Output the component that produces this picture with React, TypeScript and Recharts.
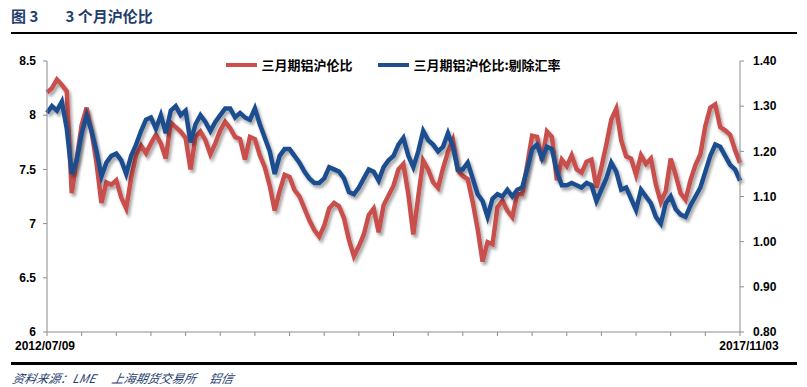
import React from 'react';
import { LineChart, Line, XAxis, YAxis, Legend } from 'recharts';

// 三月期铝沪伦比 (left axis), sampled evenly from 2012/07/09 to 2017/11/03
const ratio = [
  8.21, 8.25, 8.33, 8.28, 8.22, 7.28, 7.6, 7.91, 8.07, 7.85,
  7.56, 7.19, 7.38, 7.36, 7.4, 7.24, 7.14, 7.42, 7.63, 7.72,
  7.65, 7.74, 7.82, 7.74, 7.6, 7.93, 7.89, 7.85, 7.79, 7.5,
  7.8, 7.85, 7.77, 7.64, 7.74, 7.86, 7.94, 7.88, 7.8, 7.78,
  7.59, 7.8, 7.78, 7.63, 7.52, 7.35, 7.12, 7.3, 7.45, 7.43,
  7.31, 7.25, 7.14, 7.03, 6.94, 6.88, 6.98, 7.14, 7.19, 7.16,
  7.05, 6.85, 6.7, 6.79, 6.9, 7.08, 7.14, 6.92, 7.17, 7.26,
  7.35, 7.5, 7.55, 7.27, 6.9, 7.25, 7.58, 7.5, 7.38, 7.33,
  7.51, 7.66, 7.77, 7.49, 7.44, 7.41, 7.2, 6.95, 6.65, 6.83,
  6.81, 7.15, 7.21, 7.12, 7.06, 7.27, 7.27, 7.54, 7.81, 7.8,
  7.58, 7.85, 7.8, 7.4, 7.59, 7.53, 7.63, 7.5, 7.47, 7.57,
  7.59, 7.33, 7.52, 7.73, 7.96, 8.06, 7.77, 7.62, 7.6, 7.45,
  7.63, 7.55, 7.6, 7.36, 7.2, 7.3, 7.6, 7.45, 7.28, 7.22,
  7.4, 7.54, 7.64, 7.9, 8.07, 8.1, 7.89, 7.86, 7.82, 7.68,
  7.56,
];

// 三月期铝沪伦比:剔除汇率 (right axis)
const ratioExFx = [
  1.285, 1.3, 1.29, 1.31, 1.25, 1.15, 1.18, 1.24, 1.28, 1.245,
  1.2, 1.145, 1.175, 1.19, 1.195, 1.18, 1.15, 1.19, 1.215, 1.245,
  1.27, 1.275, 1.25, 1.28, 1.24, 1.29, 1.3, 1.28, 1.29, 1.22,
  1.26, 1.28, 1.265, 1.245, 1.265, 1.28, 1.295, 1.295, 1.275, 1.285,
  1.275, 1.27, 1.295, 1.26, 1.23, 1.2, 1.15, 1.19, 1.205, 1.205,
  1.19, 1.175, 1.155, 1.14, 1.13, 1.13, 1.14, 1.165, 1.16, 1.155,
  1.14, 1.11, 1.105, 1.12, 1.14, 1.16, 1.155, 1.135, 1.165, 1.18,
  1.19, 1.215, 1.23, 1.19, 1.165, 1.2, 1.245, 1.225, 1.215, 1.2,
  1.21, 1.24, 1.21, 1.16, 1.16, 1.175, 1.14, 1.105, 1.09, 1.055,
  1.095, 1.105, 1.1, 1.115, 1.1, 1.115, 1.12, 1.16, 1.205, 1.215,
  1.185, 1.21, 1.205, 1.155, 1.125, 1.125, 1.13, 1.125, 1.12, 1.13,
  1.125, 1.09, 1.115, 1.14, 1.175, 1.155, 1.115, 1.12, 1.095, 1.07,
  1.115, 1.1, 1.085, 1.055, 1.04, 1.085, 1.1, 1.072, 1.06, 1.055,
  1.08, 1.1, 1.12, 1.155, 1.19, 1.215, 1.21, 1.19, 1.17, 1.16,
  1.135,
];

const startDate = '2012/07/09';
const endDate = '2017/11/03';
const leftTicks = [6, 6.5, 7, 7.5, 8, 8.5];
const rightTicks = [0.8, 0.9, 1.0, 1.1, 1.2, 1.3, 1.4];

const RED = '#C9504E';
const BLUE = '#1F4E8F';

const data = ratio.map((v, i) => ({ i, ratio: v, exFx: ratioExFx[i] }));
const last = data.length - 1;
const xTicks = Array.from({ length: 21 }, (_, k) => k * 7);

const tickFont = { fontFamily: '"Liberation Sans", Arial, sans-serif', fontSize: 12, fontWeight: 700, fill: '#000' };

// only the first and last dates get a label; the last one sits a bit right of its tick
const DateTick = (props: any) => {
  const { x, y, payload } = props;
  const v = payload.value;
  if (v !== 0 && v !== last) return null;
  return (
    <text x={v === last ? x + 9 : x - 2} y={y} dy="0.71em" textAnchor="middle" {...tickFont}>
      {v === 0 ? startDate : endDate}
    </text>
  );
};

const renderLegend = () => (
  <div style={{ display: 'flex', justifyContent: 'center', alignItems: 'center', fontFamily: '"Noto Sans CJK SC", sans-serif', fontSize: 13, fontWeight: 700, color: '#000' }}>
    <span style={{ display: 'inline-block', width: 31, height: 4, background: RED, marginRight: 4 }} />
    <span style={{ marginRight: 26 }}>三月期铝沪伦比</span>
    <span style={{ display: 'inline-block', width: 31, height: 4, background: BLUE, marginRight: 4 }} />
    <span>三月期铝沪伦比:剔除汇率</span>
  </div>
);

export default function App() {
  return (
    <div style={{ position: 'absolute', left: 0, top: 0, width: 807, height: 387, background: '#fff', overflow: 'hidden' }}>
      <div style={{ position: 'absolute', left: 11, top: 5, fontFamily: '"Noto Sans CJK SC", sans-serif', fontWeight: 700, fontSize: 15, color: '#1F3E6E', whiteSpace: 'pre' }}>
        {'图 3        3 个月沪伦比'}
      </div>
      <div style={{ position: 'absolute', left: 11, top: 32, width: 786, height: 2, background: '#000' }} />

      <LineChart
        width={807}
        height={387}
        data={data}
        margin={{ top: 61, right: 7, bottom: 25, left: 7 }}
        style={{ position: 'absolute', left: 0, top: 0 }}
      >
        <defs>
          <filter id="lineShadow" x="-5%" y="-5%" width="110%" height="120%">
            <feGaussianBlur in="SourceAlpha" stdDeviation="1.5" />
            <feOffset dx="2" dy="3" result="off" />
            <feComponentTransfer>
              <feFuncA type="linear" slope="0.35" />
            </feComponentTransfer>
            <feMerge>
              <feMergeNode />
              <feMergeNode in="SourceGraphic" />
            </feMerge>
          </filter>
        </defs>
        <XAxis
          dataKey="i"
          type="number"
          domain={[0, last]}
          ticks={xTicks}
          interval={0}
          stroke="#8c8c8c"
          tickSize={4}
          tickMargin={5}
          height={30}
          tick={<DateTick />}
        />
        <YAxis
          yAxisId="left"
          domain={[6, 8.5]}
          ticks={leftTicks}
          interval={0}
          width={40}
          stroke="#8c8c8c"
          tickSize={4}
          tickMargin={7}
          tick={tickFont}
        />
        <YAxis
          yAxisId="right"
          orientation="right"
          domain={[0.8, 1.4]}
          ticks={rightTicks}
          interval={0}
          width={60}
          stroke="#8c8c8c"
          tickSize={4}
          tickMargin={9}
          tickFormatter={(v) => Number(v).toFixed(2)}
          tick={{ ...tickFont, textAnchor: 'start' }}
        />
        <Legend
          layout="horizontal"
          verticalAlign="middle"
          align="center"
          wrapperStyle={{ top: 55, left: -10, width: 807 }}
          content={renderLegend}
        />
        <Line
          yAxisId="left"
          type="linear"
          dataKey="ratio"
          name="三月期铝沪伦比"
          stroke={RED}
          strokeWidth={4.5}
          dot={false}
          filter="url(#lineShadow)"
          isAnimationActive={false}
        />
        <Line
          yAxisId="right"
          type="linear"
          dataKey="exFx"
          name="三月期铝沪伦比:剔除汇率"
          stroke={BLUE}
          strokeWidth={4.5}
          dot={false}
          filter="url(#lineShadow)"
          isAnimationActive={false}
        />
      </LineChart>

      <div style={{ position: 'absolute', left: 11, top: 362, width: 786, height: 3, background: '#000' }} />
      <div style={{ position: 'absolute', left: 11, top: 369, fontFamily: '"Noto Sans CJK SC", sans-serif', fontStyle: 'italic', fontSize: 12, color: '#1F3E6E', whiteSpace: 'pre', transform: 'skewX(-12deg)', transformOrigin: 'left bottom' }}>
        {'资料来源：LME      上海期货交易所     铝信'}
      </div>
    </div>
  );
}
